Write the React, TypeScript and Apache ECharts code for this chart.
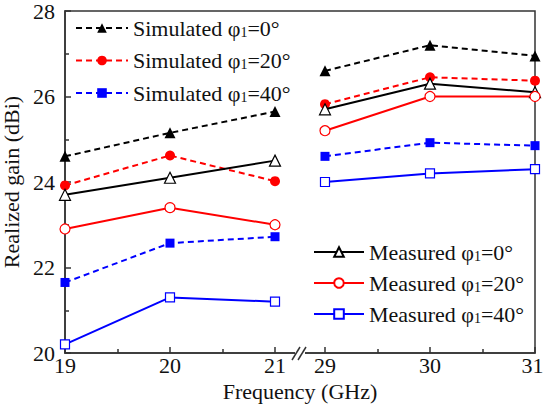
import React, { useEffect, useRef } from 'react';
import * as echarts from 'echarts';

const freqs = [19, 20, 21, 29, 30, 31];
const xTickLabels = ['19', '20', '21', '29', '30', '31'];
const minorFreqs = [19.5, 20.5, 29.5, 30.5];
const yTicks = [20, 22, 24, 26, 28];

const simulated0 = [24.6, 25.15, 25.65, 26.6, 27.2, 26.95];
const simulated20 = [23.92, 24.62, 24.02, 25.82, 26.45, 26.37];
const simulated40 = [21.65, 22.57, 22.72, 24.6, 24.92, 24.85];
const measured0 = [23.7, 24.1, 24.5, 25.7, 26.3, 26.1];
const measured20 = [22.9, 23.4, 23.0, 25.2, 26.0, 26.0];
const measured40 = [20.2, 21.3, 21.2, 24.0, 24.2, 24.3];

const GAP = 0.476;
const SHIFT = 29 - 21 - GAP;
const mapX = (f: number) => (f <= 21 ? f : f - SHIFT);

const FONT = "'Liberation Serif', 'Times New Roman', serif";
const FS = 22;

function buildData(vals: number[]) {
  const out: any[] = [];
  freqs.forEach((f, i) => {
    out.push([mapX(f), vals[i]]);
    if (f === 21) out.push([21 + GAP / 2, '-']);
  });
  return out;
}

function simSeries(name: string, vals: number[], color: string, symbol: string, size: number) {
  return {
    name,
    type: 'line',
    data: buildData(vals),
    symbol,
    symbolSize: size,
    showSymbol: true,
    connectNulls: false,
    lineStyle: { color, width: 2, type: [6, 4] },
    itemStyle: { color, borderColor: color, borderWidth: 0 },
    z: 3,
  };
}

function measSeries(name: string, vals: number[], color: string, symbol: string, size: number) {
  return {
    name,
    type: 'line',
    data: buildData(vals),
    symbol,
    symbolSize: size,
    showSymbol: true,
    connectNulls: false,
    lineStyle: { color, width: 2, type: 'solid' },
    itemStyle: { color: '#ffffff', borderColor: color, borderWidth: 1.2 },
    z: 4,
  };
}

const legendText = {
  fontSize: FS,
  fontFamily: FONT,
  color: '#111',
  lineHeight: 22,
  rich: {
    sub: { fontSize: 14, fontFamily: FONT, color: '#111', verticalAlign: 'bottom', lineHeight: 14 },
  },
};
const legendFormatter = (name: string) => name.replace('φ1', 'φ{sub|1}');

export default function App() {
  const ref = useRef<HTMLDivElement>(null);
  useEffect(() => {
    if (!ref.current) return;
    const chart = echarts.init(ref.current, undefined, { renderer: 'svg' });
    const labelOf = (v: number) => {
      const idx = freqs.findIndex((f) => Math.abs(mapX(f) - v) < 1e-6);
      if (idx < 0) return '';
      return idx === freqs.length - 1 ? '{last|' + xTickLabels[idx] + '}' : xTickLabels[idx];
    };
    chart.setOption({
      animation: false,
      backgroundColor: '#ffffff',
      grid: {
        left: 65,
        right: 9,
        top: 11,
        bottom: 59,
        show: true,
        borderColor: '#333',
        borderWidth: 1.5,
        backgroundColor: 'transparent',
        containLabel: false,
        outerBoundsMode: 'none',
      },
      legend: [
        {
          data: ['Simulated φ1=0°', 'Simulated φ1=20°', 'Simulated φ1=40°'],
          orient: 'vertical',
          left: 70,
          top: 12,
          itemWidth: 52,
          itemHeight: 12,
          itemGap: 10.5,
          selectedMode: false,
          formatter: legendFormatter,
          textStyle: legendText,
        },
        {
          data: ['Measured φ1=0°', 'Measured φ1=20°', 'Measured φ1=40°'],
          orient: 'vertical',
          left: 308,
          top: 236,
          itemWidth: 50,
          itemHeight: 12,
          itemGap: 9,
          selectedMode: false,
          formatter: legendFormatter,
          textStyle: legendText,
        },
      ],
      xAxis: [
        {
          type: 'value',
          min: 19,
          max: mapX(31),
          splitLine: { show: false },
          axisLine: { show: true, lineStyle: { color: '#333', width: 1.5 } },
          axisTick: {
            show: true,
            inside: true,
            length: 6,
            customValues: freqs.map(mapX),
            lineStyle: { color: '#333', width: 1.5 },
          },
          axisLabel: {
            customValues: freqs.map(mapX),
            formatter: (v: number) => labelOf(v),
            fontSize: FS,
            fontFamily: FONT,
            color: '#111',
            margin: 1,
            rich: {
              last: { fontSize: FS, fontFamily: FONT, color: '#111', padding: [0, 5, 0, 0] },
            },
          },
          name: 'Frequency (GHz)',
          nameLocation: 'middle',
          nameGap: 26,
          nameTextStyle: { fontSize: FS, fontFamily: FONT, color: '#111' },
        },
        {
          type: 'value',
          min: 19,
          max: mapX(31),
          position: 'bottom',
          splitLine: { show: false },
          axisLine: { show: false },
          axisTick: {
            show: true,
            inside: true,
            length: 4,
            customValues: minorFreqs.map(mapX),
            lineStyle: { color: '#333', width: 1.5 },
          },
          axisLabel: { show: false },
        },
      ],
      yAxis: {
        type: 'value',
        min: 20,
        max: 28,
        interval: 2,
        splitLine: { show: false },
        axisLine: { show: true, lineStyle: { color: '#333', width: 1.5 } },
        axisTick: { show: true, inside: true, length: 6, lineStyle: { color: '#333', width: 1.5 } },
        minorTick: { show: true, splitNumber: 2, length: 4, lineStyle: { color: '#333', width: 1.5 } },
        minorSplitLine: { show: false },
        axisLabel: {
          fontSize: FS,
          fontFamily: FONT,
          color: '#111',
          margin: 10,
          formatter: (v: number) => (yTicks.includes(v) ? String(v) : ''),
        },
        name: 'Realized gain (dBi)',
        nameLocation: 'middle',
        nameGap: 36,
        nameRotate: 90,
        nameTextStyle: { fontSize: FS, fontFamily: FONT, color: '#111' },
      },
      series: [
        simSeries('Simulated φ1=0°', simulated0, '#000000', 'triangle', 11),
        simSeries('Simulated φ1=20°', simulated20, '#ff0000', 'circle', 10),
        simSeries('Simulated φ1=40°', simulated40, '#0000ff', 'rect', 9),
        measSeries('Measured φ1=0°', measured0, '#000000', 'triangle', 11),
        measSeries('Measured φ1=20°', measured20, '#ff0000', 'circle', 10),
        measSeries('Measured φ1=40°', measured40, '#0000ff', 'rect', 9),
      ],
    });
    const bx = chart.convertToPixel({ xAxisIndex: 0 }, 21 + GAP / 2) as number;
    const by = chart.convertToPixel({ yAxisIndex: 0 }, 20) as number;
    chart.setOption({
      graphic: [
        { type: 'rect', shape: { x: bx - 5, y: by - 2, width: 10, height: 4 }, style: { fill: '#fff' }, z: 100 },
        { type: 'line', shape: { x1: bx - 8, y1: by + 7, x2: bx, y2: by - 6 }, style: { stroke: '#333', lineWidth: 1.5 }, z: 101 },
        { type: 'line', shape: { x1: bx - 2, y1: by + 7, x2: bx + 6, y2: by - 6 }, style: { stroke: '#333', lineWidth: 1.5 }, z: 101 },
      ],
    });
    return () => chart.dispose();
  }, []);
  return (
    <div
      ref={ref}
      style={{ position: 'fixed', left: 0, top: 0, width: 544, height: 412, background: '#fff' }}
    />
  );
}
